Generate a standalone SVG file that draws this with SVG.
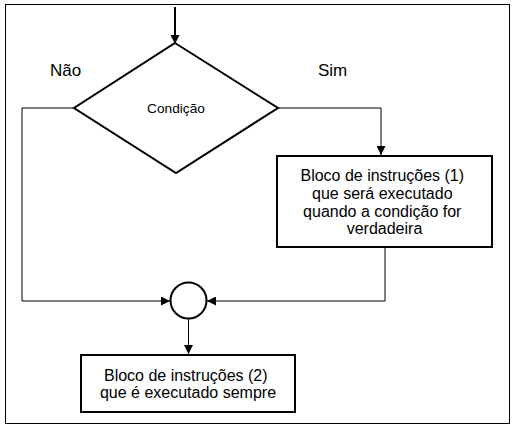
<svg xmlns="http://www.w3.org/2000/svg" width="517" height="431" viewBox="0 0 517 431">
<style>
text{font-family:"Liberation Sans",Arial,sans-serif;fill:#000}
.shape{fill:#fff;stroke:#000;stroke-width:2}
.conn{fill:none;stroke:#000;stroke-width:1}
</style>
<defs>
<marker id="ah" viewBox="0 0 10 10" refX="10" refY="5" markerWidth="9" markerHeight="9" markerUnits="userSpaceOnUse" orient="auto">
<path d="M0,0 L10,5 L0,10 Z" fill="#000"/>
</marker>
</defs>
<rect x="0" y="0" width="517" height="431" fill="#fff"/>
<rect id="frame" x="5.5" y="4.5" width="504" height="419" fill="none" stroke="#000" stroke-width="1"/>
<g id="connectors">
<line x1="175" y1="7" x2="175" y2="44" stroke="#000" stroke-width="2" marker-end="url(#ah)"/>
<polyline class="conn" points="74,108 22,108 22,301 170,301" marker-end="url(#ah)"/>
<polyline class="conn" points="278,108 381,108 381,155" marker-end="url(#ah)"/>
<polyline class="conn" points="385,247 385,301 207,301" marker-end="url(#ah)"/>
<line class="conn" x1="188.5" y1="319" x2="188.5" y2="354" marker-end="url(#ah)"/>
</g>
<g id="decision">
<polygon class="shape" points="175,43 278,108 176,173 74,108"/>
<text x="176" y="113" font-size="13.7" text-anchor="middle">Condição</text>
</g>
<g id="label-nao"><text x="50" y="76" font-size="17">Não</text></g>
<g id="label-sim"><text x="318" y="76" font-size="17">Sim</text></g>
<g id="block1">
<rect class="shape" x="277" y="156" width="215" height="91"/>
<text font-size="16" text-anchor="middle">
<tspan x="384.5" y="181">Bloco de instruções (1)</tspan>
<tspan x="384.5" y="199">que será executado</tspan>
<tspan x="384.5" y="217">quando a condição for</tspan>
<tspan x="384.5" y="234">verdadeira</tspan>
</text>
</g>
<g id="junction">
<circle class="shape" cx="188.5" cy="300.5" r="18"/>
</g>
<g id="block2">
<rect class="shape" x="81" y="355" width="214" height="57"/>
<text font-size="16" text-anchor="middle">
<tspan x="188" y="381">Bloco de instruções (2)</tspan>
<tspan x="188" y="398">que é executado sempre</tspan>
</text>
</g>
</svg>
